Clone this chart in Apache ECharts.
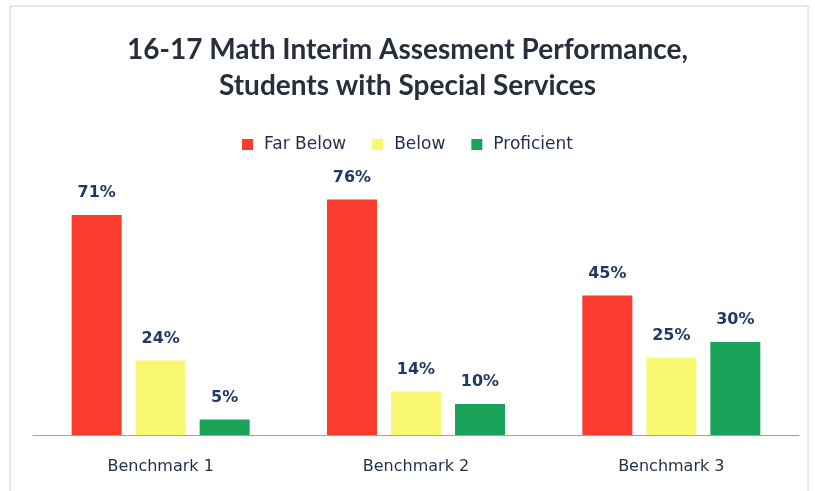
<!DOCTYPE html>
<html>
<head>
<meta charset="utf-8">
<script src="https://cdn.jsdelivr.net/npm/echarts@6/dist/echarts.min.js"></script>
<style>html,body{margin:0;padding:0;background:#fff;}#c{width:815px;height:491px;}</style>
</head>
<body>
<div id="c"></div>
<script>
const categories = ['Benchmark 1', 'Benchmark 2', 'Benchmark 3'];
const farBelow = [71, 76, 45];
const below = [24, 14, 25];
const proficient = [5, 10, 30];
const seriesNames = ['Far Below', 'Below', 'Proficient'];

const chart = echarts.init(document.getElementById('c'));
const lbl = {
  show: true, position: 'top', distance: 14,
  formatter: p => p.value + '%',
  color: '#1F3A68', fontSize: 16, fontWeight: 'bold', fontFamily: 'DejaVu Sans'
};
function mk(name, data, color) {
  return { name, type: 'bar', data, barWidth: 50, barGap: '28%',
    itemStyle: { color }, label: lbl };
}
chart.setOption({
  animation: false,
  title: {
    text: '16-17 Math Interim Assesment Performance,\nStudents with Special Services',
    left: 'center', top: 27,
    textStyle: { fontFamily: 'Lato', fontSize: 28, fontWeight: 'bold', color: '#262F3B', lineHeight: 36 }
  },
  legend: {
    data: seriesNames, top: 131, left: 'center', itemWidth: 11, itemHeight: 11, itemGap: 26,
    icon: 'rect',
    textStyle: { fontFamily: 'DejaVu Sans', fontSize: 17, color: '#1F2E4A', padding: [0, 0, 0, 6] }
  },
  grid: { left: 33, right: 16, top: 187, bottom: 56 },
  xAxis: {
    type: 'category', data: categories,
    axisLine: { lineStyle: { color: '#A0A0A0' } },
    axisTick: { show: false },
    axisLabel: { margin: 24, fontFamily: 'DejaVu Sans', fontSize: 16, color: '#1F2E4A' }
  },
  yAxis: { type: 'value', min: 0, max: 80, show: false, splitLine: { show: false } },
  series: [
    mk(seriesNames[0], farBelow, '#FA3B2D'),
    mk(seriesNames[1], below, '#F9F871'),
    mk(seriesNames[2], proficient, '#1AA35A')
  ],
  graphic: [{
    type: 'rect', shape: { x: 10, y: 6, width: 798, height: 490 },
    style: { fill: 'none', stroke: '#D0D0D0', lineWidth: 1 }
  }]
});
</script>
</body>
</html>
